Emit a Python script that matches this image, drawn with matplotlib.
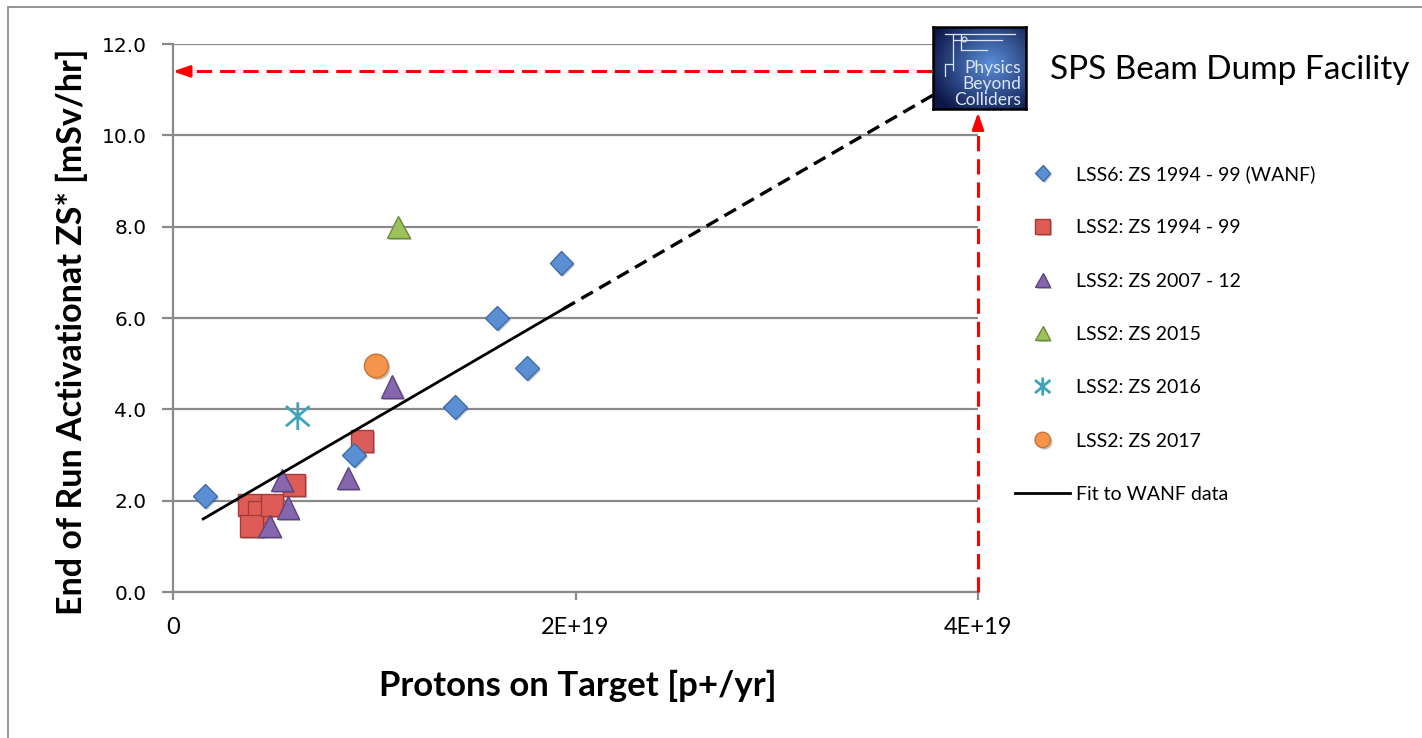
import numpy as np
import matplotlib
matplotlib.use('Agg')
import matplotlib.pyplot as plt
from matplotlib.path import Path
import matplotlib.patheffects as pe
from matplotlib.patches import Rectangle

# ---------------- data ----------------
lss6_x = [0.16e19, 0.90e19, 1.40e19, 1.61e19, 1.76e19, 1.93e19]
lss6_y = [2.1, 3.0, 4.05, 6.0, 4.9, 7.2]
lss2_9499_x = [0.38e19, 0.43e19, 0.39e19, 0.49e19, 0.60e19, 0.94e19]
lss2_9499_y = [1.9, 1.75, 1.45, 1.9, 2.35, 3.3]
lss2_0712_x = [0.54e19, 0.57e19, 0.48e19, 0.87e19, 1.09e19]
lss2_0712_y = [2.45, 1.85, 1.45, 2.5, 4.5]
lss2_2015_x = [1.12e19]
lss2_2015_y = [8.0]
lss2_2016_x = [0.62e19]
lss2_2016_y = [3.85]
lss2_2017_x = [1.01e19]
lss2_2017_y = [4.95]
fit_x = [0.15e19, 1.94e19]
fit_y = [1.6, 6.2]
fit_ext_x = [1.94e19, 4.0e19]
fit_ext_y = [6.2, 11.45]
bdf_pot = 4.0e19
bdf_dose = 11.4

labels = ["LSS6: ZS 1994 - 99 (WANF)", "LSS2: ZS 1994 - 99", "LSS2: ZS 2007 - 12",
          "LSS2: ZS 2015", "LSS2: ZS 2016", "LSS2: ZS 2017", "Fit to WANF data"]
x_ticks = [0, 2e19, 4e19]
x_ticklabels = ["0", "2E+19", "4E+19"]
y_ticks = [0, 2, 4, 6, 8, 10, 12]

# ---------------- figure ----------------
W, H = 1422, 738
fig = plt.figure(figsize=(W / 100, H / 100), dpi=100)
fig.patch.set_facecolor('white')

# outer frame
fig.add_artist(Rectangle((8 / W, -0.1), 1.2, 1 - 7 / H + 0.1, transform=fig.transFigure,
                         fill=False, ec='#8c8c8c', lw=1.3))

left, right, bottom, top = 173, 978, 592, 44
ax = fig.add_axes([left / W, 1 - bottom / H, (right - left) / W, (bottom - top) / H])
ax.set_xlim(0, 4e19)
ax.set_ylim(0, 12)

grid_c = '#8a8a8a'
for s in ['top', 'right']:
    ax.spines[s].set_visible(False)
for s in ['left', 'bottom']:
    ax.spines[s].set_color(grid_c)
    ax.spines[s].set_linewidth(1.6)
ax.yaxis.grid(True, color=grid_c, lw=1.6)
ax.set_axisbelow(True)

ax.set_yticks(y_ticks)
ax.set_yticklabels([f"{v:.1f}" for v in y_ticks], fontsize=14.5, family='DejaVu Sans')
ax.set_xticks(x_ticks)
ax.set_xticklabels(x_ticklabels, fontsize=17, family='Lato')
ax.tick_params(axis='y', direction='out', length=8, width=1.6, color=grid_c, pad=11)
ax.tick_params(axis='x', direction='out', length=6, width=1.6, color=grid_c, pad=12)

shadow = [pe.SimplePatchShadow(offset=(1.5, -1.5), alpha=0.3), pe.Normal()]

# asterisk-like marker (vertical bar + X)
star_path = Path([(0, -1), (0, 1), (-0.85, -0.72), (0.85, 0.72), (-0.85, 0.72), (0.85, -0.72)],
                 [Path.MOVETO, Path.LINETO, Path.MOVETO, Path.LINETO, Path.MOVETO, Path.LINETO])

h1, = ax.plot(lss6_x, lss6_y, ls='none', marker='D', ms=12, mfc='#5b8fd3', mec='#3d6cab', mew=1,
              path_effects=shadow, zorder=5)
h2, = ax.plot(lss2_9499_x, lss2_9499_y, ls='none', marker='s', ms=16, mfc='#dd5c58', mec='#a83a36', mew=1,
              path_effects=shadow, zorder=4)
h3, = ax.plot(lss2_0712_x, lss2_0712_y, ls='none', marker='^', ms=16, mfc='#8667ad', mec='#5c4483', mew=1,
              path_effects=shadow, zorder=6)
h4, = ax.plot(lss2_2015_x, lss2_2015_y, ls='none', marker='^', ms=16, mfc='#9cc25c', mec='#6c8c3a', mew=1,
              path_effects=shadow, zorder=6)
h5, = ax.plot(lss2_2016_x, lss2_2016_y, ls='none', marker=star_path, ms=20, mfc='none', mec='#3ea3bd', mew=2,
              path_effects=shadow, zorder=6)
h6, = ax.plot(lss2_2017_x, lss2_2017_y, ls='none', marker='o', ms=17, mfc='#f5944a', mec='#c87434', mew=1,
              path_effects=shadow, zorder=6)
h7, = ax.plot(fit_x, fit_y, color='black', lw=2, zorder=7)
ax.plot(fit_ext_x, fit_ext_y, color='black', lw=2.4, dashes=(4, 2.2), zorder=7, clip_on=False)

# red dashed arrows to BDF point
red = '#ff0000'
ax.plot([bdf_pot, 0.04e19], [bdf_dose, bdf_dose], color=red, lw=2.2, dashes=(5, 2.6), clip_on=False, zorder=3)
ax.annotate('', xy=(0, bdf_dose), xytext=(0.06e19, bdf_dose),
            arrowprops=dict(arrowstyle='-|>,head_length=1.0,head_width=0.35', color=red, lw=2,
                            shrinkA=0, shrinkB=0), annotation_clip=False, zorder=3)
ax.plot([bdf_pot, bdf_pot], [0, 10.3], color=red, lw=2.2, dashes=(5, 2.6), clip_on=False, zorder=3)
ax.annotate('', xy=(bdf_pot, 10.5), xytext=(bdf_pot, 10.2),
            arrowprops=dict(arrowstyle='-|>,head_length=1.0,head_width=0.35', color=red, lw=2,
                            shrinkA=0, shrinkB=0), annotation_clip=False, zorder=3)

# axis labels
fig.text(72 / W, 1 - 332 / H, "End of Run Activationat ZS* [mSv/hr]", rotation=90,
         ha='center', va='center', fontsize=24.5, fontweight='bold', family='Lato')
fig.text(578 / W, 1 - 686 / H, "Protons on Target [p+/yr]",
         ha='center', va='center', fontsize=25, fontweight='bold', family='Lato')

# legend
ax.legend([h1, h2, h3, h4, h5, h6, h7], labels, loc='upper left',
          bbox_to_anchor=(1015 / W, 1 - 165 / H), bbox_transform=fig.transFigure,
          frameon=False, prop={'family': 'Lato', 'size': 14}, markerscale=0.65,
          handlelength=2.85, handletextpad=0.3, labelspacing=1.87, borderpad=0, borderaxespad=0)

# title
fig.text(1050 / W, 1 - 70 / H, "SPS Beam Dump Facility", ha='left', va='center',
         fontsize=24, family='Lato')

# logo (decorative)
lx0, ly0, lx1, ly1 = 933, 27, 1026, 109
lax = fig.add_axes([lx0 / W, 1 - ly1 / H, (lx1 - lx0) / W, (ly1 - ly0) / H], zorder=10)
gx, gy = np.meshgrid(np.linspace(0, 1, 120), np.linspace(0, 1, 120))
r = np.sqrt((gx - 0.62) ** 2 + (gy - 0.45) ** 2)
t = np.clip(r / 0.7, 0, 1)[..., None]
c_in = np.array([0.36, 0.56, 0.86])
c_out = np.array([0.05, 0.09, 0.28])
lax.imshow(c_in * (1 - t) + c_out * t, extent=(0, 1, 0, 1), aspect='auto', origin='upper')
lc = '#dbe6f7'
for xs, ys in [([0.13, 0.88], [0.92, 0.92]), ([0.22, 0.74], [0.84, 0.84]),
               ([0.22, 0.22], [0.92, 0.48]), ([0.30, 0.30], [0.92, 0.72]),
               ([0.30, 0.58], [0.72, 0.72]), ([0.13, 0.13], [0.55, 0.40]),
               ([0.13, 0.20], [0.55, 0.55])]:
    lax.plot(xs, ys, color=lc, lw=0.9)
lax.plot([0.33], [0.855], marker='o', ms=3.5, mfc='none', mec=lc, mew=0.8)
for txt, yy in [("Physics", 0.50), ("Beyond", 0.31), ("Colliders", 0.11)]:
    lax.text(0.95, yy, txt, ha='right', va='center', fontsize=12.5, color=lc, family='Lato')
lax.set_xlim(0, 1)
lax.set_ylim(0, 1)
lax.set_xticks([])
lax.set_yticks([])
for s in lax.spines.values():
    s.set_color('black')
    s.set_linewidth(1.8)

fig.savefig('out.png', dpi=100)
